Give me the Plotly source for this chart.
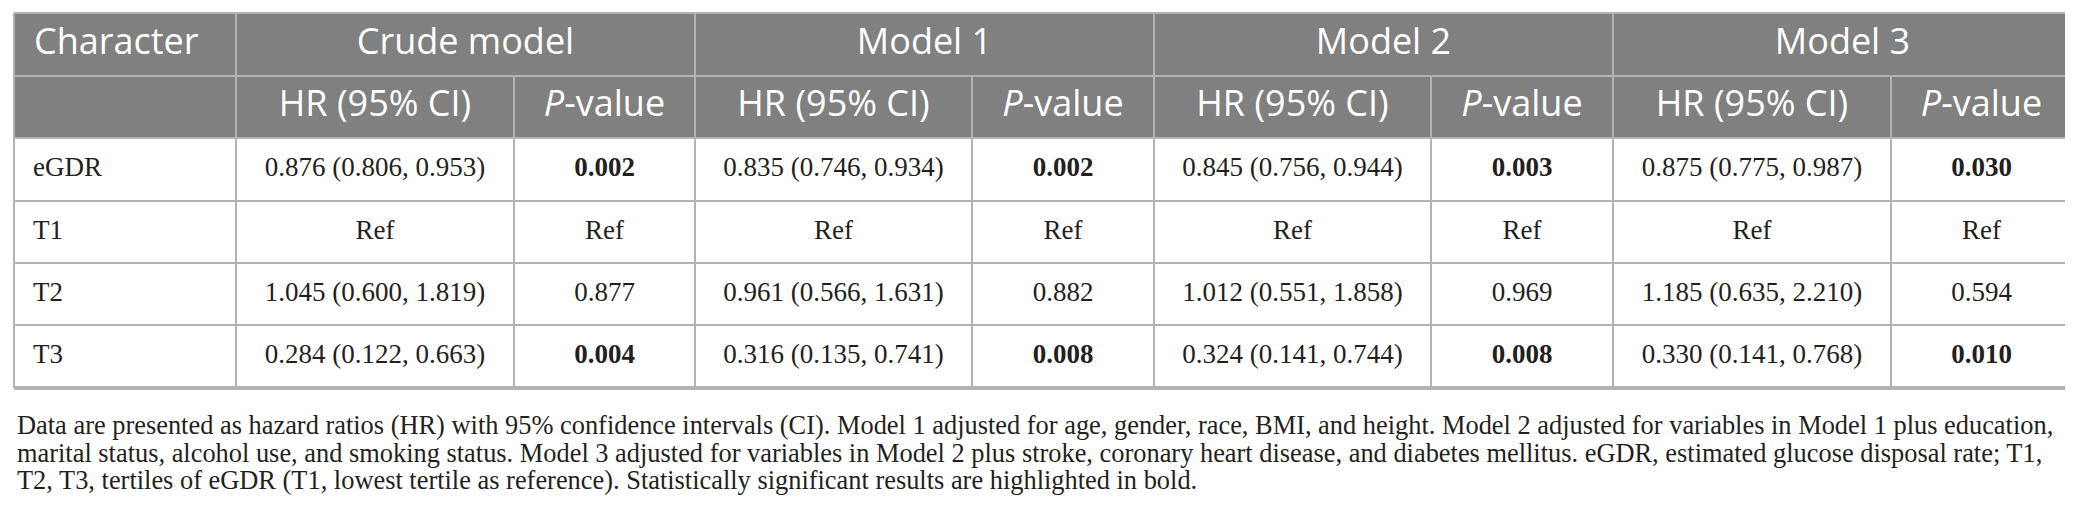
import plotly.graph_objects as go

# ---- table content ----
characters = ["eGDR", "T1", "T2", "T3"]
models = ["Crude model", "Model 1", "Model 2", "Model 3"]
sub_headers = ["HR (95% CI)", "<i>P</i>-value"]

hr_crude = ["0.876 (0.806, 0.953)", "Ref", "1.045 (0.600, 1.819)", "0.284 (0.122, 0.663)"]
p_crude = ["0.002", "Ref", "0.877", "0.004"]
hr_m1 = ["0.835 (0.746, 0.934)", "Ref", "0.961 (0.566, 1.631)", "0.316 (0.135, 0.741)"]
p_m1 = ["0.002", "Ref", "0.882", "0.008"]
hr_m2 = ["0.845 (0.756, 0.944)", "Ref", "1.012 (0.551, 1.858)", "0.324 (0.141, 0.744)"]
p_m2 = ["0.003", "Ref", "0.969", "0.008"]
hr_m3 = ["0.875 (0.775, 0.987)", "Ref", "1.185 (0.635, 2.210)", "0.330 (0.141, 0.768)"]
p_m3 = ["0.030", "Ref", "0.594", "0.010"]

footnote = [
    "Data are presented as hazard ratios (HR) with 95% confidence intervals (CI). Model 1 adjusted for age, gender, race, BMI, and height. Model 2 adjusted for variables in Model 1 plus education,",
    "marital status, alcohol use, and smoking status. Model 3 adjusted for variables in Model 2 plus stroke, coronary heart disease, and diabetes mellitus. eGDR, estimated glucose disposal rate; T1,",
    "T2, T3, tertiles of eGDR (T1, lowest tertile as reference). Statistically significant results are highlighted in bold.",
]

# ---- layout / style ----
W, H = 2073, 510
X0, Y0 = 6, 5
col_w = [222, 278, 181, 277, 182, 277, 182, 278, 181]
row_h = [63, 62, 63, 62, 62, 63]
HEAD_BG = "#808080"
GRID = "#b3b3b3"
TXT = "#231f20"
SANS = "Open Sans"
SERIF = "Liberation Serif"
HEAD_FS = 36
BODY_FS = 27
NOTE_FS = 26.4

xe = [X0]
for w in col_w:
    xe.append(xe[-1] + w)
ye = [Y0]
for h in row_h:
    ye.append(ye[-1] + h)
xc = [(xe[i] + xe[i + 1]) / 2 for i in range(len(col_w))]
yc = [(ye[i] + ye[i + 1]) / 2 for i in range(len(row_h))]

columns = [(hr_crude, p_crude), (hr_m1, p_m1), (hr_m2, p_m2), (hr_m3, p_m3)]

fig = go.Figure()
shapes = []

# header fill
shapes.append(dict(type="rect", x0=xe[0], x1=xe[-1], y0=ye[0], y1=ye[2],
                   fillcolor=HEAD_BG, line_width=0, layer="below"))

def hline(y, xa, xb, w=2):
    shapes.append(dict(type="line", x0=xa, x1=xb, y0=y, y1=y, line=dict(color=GRID, width=w)))

def vline(x, ya, yb, w=2):
    shapes.append(dict(type="line", x0=x, x1=x, y0=ya, y1=yb, line=dict(color=GRID, width=w)))

for y in ye[:-1]:
    hline(y, xe[0], xe[-1])
hline(ye[-1], xe[0], xe[-1], 4)
# group boundaries through full height, inner column boundaries below the first header row
for i, x in enumerate(xe):
    if i == 0 or i == len(xe) - 1 or i % 2 == 1:
        vline(x, ye[0], ye[-1])
    else:
        vline(x, ye[1], ye[-1])

# header row 1
fig.add_trace(go.Scatter(x=[X0 + 20], y=[yc[0]], mode="text", text=["Character"],
                         textposition="middle right",
                         textfont=dict(family=SANS, size=HEAD_FS, color="white"),
                         hoverinfo="skip", showlegend=False))
fig.add_trace(go.Scatter(x=[(xe[1 + 2 * k] + xe[3 + 2 * k]) / 2 for k in range(len(models))],
                         y=[yc[0]] * len(models), mode="text", text=models,
                         textposition="middle center",
                         textfont=dict(family=SANS, size=HEAD_FS, color="white"),
                         hoverinfo="skip", showlegend=False))
# header row 2
fig.add_trace(go.Scatter(x=xc[1:], y=[yc[1]] * (len(col_w) - 1), mode="text",
                         text=sub_headers * len(models), textposition="middle center",
                         textfont=dict(family=SANS, size=HEAD_FS, color="white"),
                         hoverinfo="skip", showlegend=False))

# body
fig.add_trace(go.Scatter(x=[X0 + 19] * len(characters), y=yc[2:], mode="text",
                         text=characters, textposition="middle right",
                         textfont=dict(family=SERIF, size=BODY_FS, color=TXT),
                         hoverinfo="skip", showlegend=False))

def fmt_p(p):
    try:
        return "<b>%s</b>" % p if float(p) < 0.05 else p
    except ValueError:
        return p

bx, by, bt = [], [], []
for k, (hr, p) in enumerate(columns):
    for r in range(len(characters)):
        bx += [xc[1 + 2 * k], xc[2 + 2 * k]]
        by += [yc[2 + r], yc[2 + r]]
        bt += [hr[r], fmt_p(p[r])]
fig.add_trace(go.Scatter(x=bx, y=by, mode="text", text=bt, textposition="middle center",
                         textfont=dict(family=SERIF, size=BODY_FS, color=TXT),
                         hoverinfo="skip", showlegend=False))

# footnote
for i, line in enumerate(footnote):
    fig.add_annotation(x=X0 + 1, y=ye[-1] + 37 + 27.5 * i, xref="x", yref="y", text=line,
                       showarrow=False, xanchor="left", yanchor="middle",
                       font=dict(family=SERIF, size=NOTE_FS, color=TXT))

fig.update_layout(
    width=W, height=H, margin=dict(l=0, r=0, t=0, b=0),
    paper_bgcolor="white", plot_bgcolor="white", shapes=shapes,
    xaxis=dict(range=[0, W], visible=False, fixedrange=True),
    yaxis=dict(range=[H, 0], visible=False, fixedrange=True),
)
fig.write_html("out.html")
